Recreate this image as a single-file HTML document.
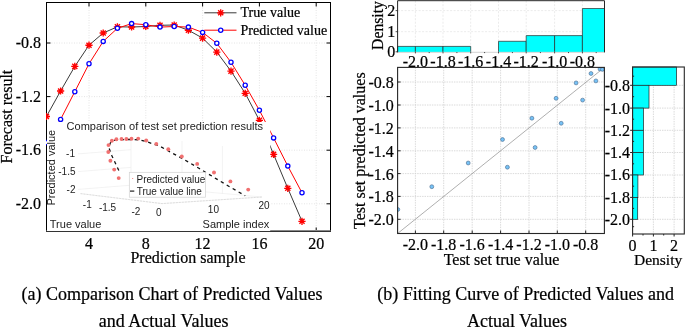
<!DOCTYPE html>
<html><head><meta charset="utf-8"><style>
html,body{margin:0;padding:0;background:#fff;width:685px;height:327px;overflow:hidden}
svg{display:block;will-change:transform}
</style></head><body>
<svg width="685" height="327" viewBox="0 0 685 327">
<path d="M46.5 43.0H330.5 M46.5 96.6H330.5 M46.5 150.2H330.5 M46.5 203.8H330.5 M89.0 2.5V231.5 M145.8 2.5V231.5 M202.6 2.5V231.5 M259.4 2.5V231.5 M316.2 2.5V231.5" stroke="#d9d9d9" stroke-width="0.8" stroke-dasharray="0.9 1.6" fill="none"/>
<path d="M46.5 43.0h4M330.5 43.0h-4M46.5 96.6h4M330.5 96.6h-4M46.5 150.2h4M330.5 150.2h-4M46.5 203.8h4M330.5 203.8h-4M89.0 230.9v-3.4M89.0 2.5v4M145.8 230.9v-3.4M145.8 2.5v4M202.6 230.9v-3.4M202.6 2.5v4M259.4 230.9v-3.4M259.4 2.5v4M316.2 230.9v-3.4M316.2 2.5v4" stroke="#000" stroke-width="1" fill="none"/>
<rect x="46.5" y="2.5" width="284.0" height="228.8" fill="none" stroke="#000" stroke-width="1"/>
<path d="M46.5 230.5H330.5" stroke="#888" stroke-width="1"/>
<clipPath id="cl"><rect x="46.0" y="2.0" width="285.0" height="230.0"/></clipPath>
<g clip-path="url(#cl)">
<polyline points="46.4,116.5 60.6,91.0 74.8,66.4 89.0,45.2 103.2,33.0 117.4,26.8 131.6,27.0 145.8,26.5 160.0,25.3 174.2,25.0 188.4,30.2 202.6,38.1 216.8,52.1 231.0,71.1 245.2,93.3 259.4,120.3 273.6,154.4 287.8,188.3 302.0,221.3" fill="none" stroke="#3a3a3a" stroke-width="1"/>
<polyline points="46.4,142.6 60.6,119.4 74.8,91.7 89.0,63.8 103.2,41.4 117.4,28.3 131.6,23.6 145.8,24.7 160.0,27.1 174.2,26.5 188.4,27.1 202.6,32.4 216.8,43.3 231.0,62.3 245.2,85.3 259.4,110.3 273.6,137.9 287.8,166.1 302.0,192.8" fill="none" stroke="#ff0000" stroke-width="1"/>
<path d="M42.80 116.50L50.00 116.50M43.85 113.95L48.95 119.05M46.40 112.90L46.40 120.10M48.95 113.95L43.85 119.05" stroke="#ff0000" stroke-width="1.35" fill="none"/>
<path d="M57.00 91.00L64.20 91.00M58.05 88.45L63.15 93.55M60.60 87.40L60.60 94.60M63.15 88.45L58.05 93.55" stroke="#ff0000" stroke-width="1.35" fill="none"/>
<path d="M71.20 66.40L78.40 66.40M72.25 63.85L77.35 68.95M74.80 62.80L74.80 70.00M77.35 63.85L72.25 68.95" stroke="#ff0000" stroke-width="1.35" fill="none"/>
<path d="M85.40 45.20L92.60 45.20M86.45 42.65L91.55 47.75M89.00 41.60L89.00 48.80M91.55 42.65L86.45 47.75" stroke="#ff0000" stroke-width="1.35" fill="none"/>
<path d="M99.60 33.00L106.80 33.00M100.65 30.45L105.75 35.55M103.20 29.40L103.20 36.60M105.75 30.45L100.65 35.55" stroke="#ff0000" stroke-width="1.35" fill="none"/>
<path d="M113.80 26.80L121.00 26.80M114.85 24.25L119.95 29.35M117.40 23.20L117.40 30.40M119.95 24.25L114.85 29.35" stroke="#ff0000" stroke-width="1.35" fill="none"/>
<path d="M128.00 27.00L135.20 27.00M129.05 24.45L134.15 29.55M131.60 23.40L131.60 30.60M134.15 24.45L129.05 29.55" stroke="#ff0000" stroke-width="1.35" fill="none"/>
<path d="M142.20 26.50L149.40 26.50M143.25 23.95L148.35 29.05M145.80 22.90L145.80 30.10M148.35 23.95L143.25 29.05" stroke="#ff0000" stroke-width="1.35" fill="none"/>
<path d="M156.40 25.30L163.60 25.30M157.45 22.75L162.55 27.85M160.00 21.70L160.00 28.90M162.55 22.75L157.45 27.85" stroke="#ff0000" stroke-width="1.35" fill="none"/>
<path d="M170.60 25.00L177.80 25.00M171.65 22.45L176.75 27.55M174.20 21.40L174.20 28.60M176.75 22.45L171.65 27.55" stroke="#ff0000" stroke-width="1.35" fill="none"/>
<path d="M184.80 30.20L192.00 30.20M185.85 27.65L190.95 32.75M188.40 26.60L188.40 33.80M190.95 27.65L185.85 32.75" stroke="#ff0000" stroke-width="1.35" fill="none"/>
<path d="M199.00 38.10L206.20 38.10M200.05 35.55L205.15 40.65M202.60 34.50L202.60 41.70M205.15 35.55L200.05 40.65" stroke="#ff0000" stroke-width="1.35" fill="none"/>
<path d="M213.20 52.10L220.40 52.10M214.25 49.55L219.35 54.65M216.80 48.50L216.80 55.70M219.35 49.55L214.25 54.65" stroke="#ff0000" stroke-width="1.35" fill="none"/>
<path d="M227.40 71.10L234.60 71.10M228.45 68.55L233.55 73.65M231.00 67.50L231.00 74.70M233.55 68.55L228.45 73.65" stroke="#ff0000" stroke-width="1.35" fill="none"/>
<path d="M241.60 93.30L248.80 93.30M242.65 90.75L247.75 95.85M245.20 89.70L245.20 96.90M247.75 90.75L242.65 95.85" stroke="#ff0000" stroke-width="1.35" fill="none"/>
<path d="M255.80 120.30L263.00 120.30M256.85 117.75L261.95 122.85M259.40 116.70L259.40 123.90M261.95 117.75L256.85 122.85" stroke="#ff0000" stroke-width="1.35" fill="none"/>
<path d="M270.00 154.40L277.20 154.40M271.05 151.85L276.15 156.95M273.60 150.80L273.60 158.00M276.15 151.85L271.05 156.95" stroke="#ff0000" stroke-width="1.35" fill="none"/>
<path d="M284.20 188.30L291.40 188.30M285.25 185.75L290.35 190.85M287.80 184.70L287.80 191.90M290.35 185.75L285.25 190.85" stroke="#ff0000" stroke-width="1.35" fill="none"/>
<path d="M298.40 221.30L305.60 221.30M299.45 218.75L304.55 223.85M302.00 217.70L302.00 224.90M304.55 218.75L299.45 223.85" stroke="#ff0000" stroke-width="1.35" fill="none"/>
<circle cx="46.40" cy="142.60" r="2.1" stroke="#0000ff" stroke-width="1.3" fill="#fff"/>
<circle cx="60.60" cy="119.40" r="2.1" stroke="#0000ff" stroke-width="1.3" fill="#fff"/>
<circle cx="74.80" cy="91.70" r="2.1" stroke="#0000ff" stroke-width="1.3" fill="#fff"/>
<circle cx="89.00" cy="63.80" r="2.1" stroke="#0000ff" stroke-width="1.3" fill="#fff"/>
<circle cx="103.20" cy="41.40" r="2.1" stroke="#0000ff" stroke-width="1.3" fill="#fff"/>
<circle cx="117.40" cy="28.30" r="2.1" stroke="#0000ff" stroke-width="1.3" fill="#fff"/>
<circle cx="131.60" cy="23.60" r="2.1" stroke="#0000ff" stroke-width="1.3" fill="#fff"/>
<circle cx="145.80" cy="24.70" r="2.1" stroke="#0000ff" stroke-width="1.3" fill="#fff"/>
<circle cx="160.00" cy="27.10" r="2.1" stroke="#0000ff" stroke-width="1.3" fill="#fff"/>
<circle cx="174.20" cy="26.50" r="2.1" stroke="#0000ff" stroke-width="1.3" fill="#fff"/>
<circle cx="188.40" cy="27.10" r="2.1" stroke="#0000ff" stroke-width="1.3" fill="#fff"/>
<circle cx="202.60" cy="32.40" r="2.1" stroke="#0000ff" stroke-width="1.3" fill="#fff"/>
<circle cx="216.80" cy="43.30" r="2.1" stroke="#0000ff" stroke-width="1.3" fill="#fff"/>
<circle cx="231.00" cy="62.30" r="2.1" stroke="#0000ff" stroke-width="1.3" fill="#fff"/>
<circle cx="245.20" cy="85.30" r="2.1" stroke="#0000ff" stroke-width="1.3" fill="#fff"/>
<circle cx="259.40" cy="110.30" r="2.1" stroke="#0000ff" stroke-width="1.3" fill="#fff"/>
<circle cx="273.60" cy="137.90" r="2.1" stroke="#0000ff" stroke-width="1.3" fill="#fff"/>
<circle cx="287.80" cy="166.10" r="2.1" stroke="#0000ff" stroke-width="1.3" fill="#fff"/>
<circle cx="302.00" cy="192.80" r="2.1" stroke="#0000ff" stroke-width="1.3" fill="#fff"/>
</g>
<rect x="47.0" y="122.0" width="223.2" height="109.0" fill="#fff"/>
<path d="M78 189.4L131 185.2 M78 171.6L131 167.4 M78 153.9L131 149.7 M131 137L131 185.2 M80.5 193.6L162 203.6 M162 203.6L262 197 M131 185.2L262 197 M182 141L182 190 M222.4 146L222.4 194" stroke="#eeeeee" stroke-width="0.7" fill="none"/>
<path d="M80.5 193.6L162 203.6L262 197" stroke="#d4d4d4" stroke-width="0.7" stroke-dasharray="2 1" fill="none"/>
<polyline points="118.8,170.5 112,156 108.8,147.5 110.3,143 113,140.6 118,139.7 126,139.5 132,139.5 139,139.8 147,141.8 159.8,146.2 170.8,152.3 184.2,159.6 198.9,168.2 214.8,177.9 229.5,186.7 245.2,195.7" fill="none" stroke="#111" stroke-width="1.3" stroke-dasharray="3.3 3.6"/>
<circle cx="118.7" cy="178.1" r="1.95" fill="#f07070"/>
<circle cx="114.2" cy="169.6" r="1.95" fill="#f07070"/>
<circle cx="110.4" cy="160.7" r="1.95" fill="#f07070"/>
<circle cx="108.3" cy="152.0" r="1.95" fill="#f07070"/>
<circle cx="108.5" cy="145.1" r="1.95" fill="#f07070"/>
<circle cx="111.9" cy="140.8" r="1.95" fill="#f07070"/>
<circle cx="116.4" cy="139.2" r="1.95" fill="#f07070"/>
<circle cx="121.5" cy="139.0" r="1.95" fill="#f07070"/>
<circle cx="126.4" cy="139.0" r="1.95" fill="#f07070"/>
<circle cx="131.5" cy="138.7" r="1.95" fill="#f07070"/>
<circle cx="138.2" cy="138.6" r="1.95" fill="#f07070"/>
<circle cx="146.2" cy="140.5" r="1.95" fill="#f07070"/>
<circle cx="156.3" cy="143.9" r="1.95" fill="#f07070"/>
<circle cx="168.3" cy="149.2" r="1.95" fill="#f07070"/>
<circle cx="181.8" cy="156.5" r="1.95" fill="#f07070"/>
<circle cx="197.2" cy="163.9" r="1.95" fill="#f07070"/>
<circle cx="214.0" cy="172.5" r="1.95" fill="#f07070"/>
<circle cx="230.4" cy="181.4" r="1.95" fill="#f07070"/>
<circle cx="248.2" cy="189.6" r="1.95" fill="#f07070"/>
<rect x="129.3" y="172.3" width="76.3" height="24.9" fill="#fff" stroke="#d2d2d2" stroke-width="0.7"/>
<circle cx="132.7" cy="178.5" r="0.6" fill="#f07070"/>
<path d="M130 191.1H134.3" stroke="#222" stroke-width="1.2"/>
<text font-family="Liberation Sans" font-size="10" fill="#1c1c1c"><tspan x="136.5" y="182.8">Predicted value</tspan><tspan x="136.7" y="195.1">True value line</tspan></text>
<text font-family="Liberation Sans" font-size="11" fill="#1c1c1c" x="66.6" y="130.2" textLength="196.5" lengthAdjust="spacingAndGlyphs">Comparison of test set prediction results</text>
<text font-family="Liberation Sans" font-size="11" fill="#1c1c1c" transform="translate(55.2 205.6) rotate(-90)" x="0" y="0">Predicted value</text>
<text font-family="Liberation Sans" font-size="11" fill="#1c1c1c" x="49.8" y="227.8">True value</text>
<text font-family="Liberation Sans" font-size="11" fill="#1c1c1c" x="202.6" y="228.4">Sample index</text>
<g font-family="Liberation Sans" font-size="10" fill="#1c1c1c" text-anchor="end"><text x="75" y="157.4">-1</text><text x="75.5" y="175.2">-1.5</text><text x="75.5" y="192.6">-2</text></g>
<g font-family="Liberation Sans" font-size="10" fill="#1c1c1c" text-anchor="middle"><text x="87.3" y="207.6">-1</text><text x="107.5" y="211.1">-1.5</text><text x="135.9" y="214.9">-2</text><text x="158.8" y="216.2">0</text><text x="213.4" y="212.7">10</text><text x="264.1" y="209">20</text></g>
<path d="M204.3 12.8H236.5" stroke="#3a3a3a" stroke-width="1"/>
<path d="M217.10 12.80L224.30 12.80M218.15 10.25L223.25 15.35M220.70 9.20L220.70 16.40M223.25 10.25L218.15 15.35" stroke="#ff0000" stroke-width="1.35" fill="none"/>
<path d="M204.3 30.2H236.5" stroke="#ff0000" stroke-width="1"/>
<circle cx="220.70" cy="30.20" r="2.1" stroke="#0000ff" stroke-width="1.3" fill="#fff"/>
<text font-family="Liberation Serif" stroke="#000" stroke-width="0.22" font-size="14" fill="#000"><tspan x="240.5" y="17.1">True value</tspan><tspan x="240.5" y="34.5">Predicted value</tspan></text>
<g font-family="Liberation Serif" stroke="#000" stroke-width="0.22" font-size="16" fill="#000" text-anchor="end"><text x="41" y="47.8">-0.8</text><text x="41" y="101.8">-1.2</text><text x="41" y="155.4">-1.6</text><text x="41" y="209.0">-2.0</text></g>
<g font-family="Liberation Serif" stroke="#000" stroke-width="0.22" font-size="16" fill="#000" text-anchor="middle"><text x="89.0" y="248.6">4</text><text x="145.8" y="248.6">8</text><text x="202.6" y="248.6">12</text><text x="259.4" y="248.6">16</text><text x="316.2" y="248.6">20</text></g>
<text font-family="Liberation Serif" stroke="#000" stroke-width="0.22" font-size="16" fill="#000" x="188" y="263.2" text-anchor="middle">Prediction sample</text>
<text font-family="Liberation Serif" stroke="#000" stroke-width="0.22" font-size="16" fill="#000" transform="translate(11.6 116.6) rotate(-90)" text-anchor="middle">Forecast result</text>
<path d="M415.4 0.7V52.0M443.0 0.7V52.0M470.7 0.7V52.0M498.5 0.7V52.0M526.2 0.7V52.0M554.6 0.7V52.0M582.4 0.7V52.0M397.6 31.7H604.5M397.6 10.6H604.5" stroke="#e6e6e6" stroke-width="0.8" stroke-dasharray="2 1.5" fill="none"/>
<rect x="397.6" y="46.4" width="17.8" height="5.6" fill="#00ffff"/>
<path d="M397.6 52.0V46.4H415.4V52.0" fill="none" stroke="#2a2a2a" stroke-width="0.7"/>
<rect x="415.4" y="46.4" width="27.6" height="5.6" fill="#00ffff"/>
<path d="M415.4 52.0V46.4H443.0V52.0" fill="none" stroke="#2a2a2a" stroke-width="0.7"/>
<rect x="443.0" y="46.4" width="27.7" height="5.6" fill="#00ffff"/>
<path d="M443.0 52.0V46.4H470.7V52.0" fill="none" stroke="#2a2a2a" stroke-width="0.7"/>
<rect x="498.5" y="41.3" width="27.7" height="10.7" fill="#00ffff"/>
<path d="M498.5 52.0V41.3H526.2V52.0" fill="none" stroke="#2a2a2a" stroke-width="0.7"/>
<rect x="526.2" y="35.6" width="28.4" height="16.4" fill="#00ffff"/>
<path d="M526.2 52.0V35.6H554.6V52.0" fill="none" stroke="#2a2a2a" stroke-width="0.7"/>
<rect x="554.6" y="35.6" width="27.8" height="16.4" fill="#00ffff"/>
<path d="M554.6 52.0V35.6H582.4V52.0" fill="none" stroke="#2a2a2a" stroke-width="0.7"/>
<rect x="582.4" y="8.5" width="22.1" height="43.5" fill="#00ffff"/>
<path d="M582.4 52.0V8.5H604.5V52.0" fill="none" stroke="#2a2a2a" stroke-width="0.7"/>
<path d="M397.6 52.3H604.5" stroke="#cfcfcf" stroke-width="0.9"/>
<path d="M397.6 52.4V0.7H604.5V52.4" fill="none" stroke="#262626" stroke-width="1"/>
<path d="M397.6 51.8h-2M397.6 31.7h-2M397.6 10.6h-2M415.4 52.0v1.4M443.0 52.0v1.4M470.7 52.0v1.4M498.5 52.0v1.4M526.2 52.0v1.4M554.6 52.0v1.4M582.4 52.0v1.4M429.2 52.0v1.1M456.9 52.0v1.1M484.6 52.0v1.1M512.4 52.0v1.1M540.4 52.0v1.1M568.5 52.0v1.1M596.2 52.0v1.1" stroke="#262626" stroke-width="0.8" fill="none"/>
<g font-family="Liberation Serif" stroke="#000" stroke-width="0.22" font-size="16" fill="#000" text-anchor="middle"><text x="415.4" y="66.6">-2.0</text><text x="443.0" y="66.6">-1.8</text><text x="470.7" y="66.6">-1.6</text><text x="498.5" y="66.6">-1.4</text><text x="526.2" y="66.6">-1.2</text><text x="554.6" y="66.6">-1.0</text><text x="582.4" y="66.6">-0.8</text></g>
<g font-family="Liberation Serif" stroke="#000" stroke-width="0.22" font-size="16" fill="#000" text-anchor="end"><text x="395.3" y="57.2">0</text><text x="395.3" y="37.1">1</text><text x="395.3" y="15.6">2</text></g>
<text font-family="Liberation Serif" stroke="#000" stroke-width="0.22" fill="#000" font-size="15.7" transform="translate(383.3 49.9) rotate(-90)">Density</text>
<path d="M415.4 67.4V233.5M443.7 67.4V233.5M472.2 67.4V233.5M500.6 67.4V233.5M529.0 67.4V233.5M557.3 67.4V233.5M585.7 67.4V233.5M397.6 82.0H604.4M397.6 105.0H604.4M397.6 127.9H604.4M397.6 150.8H604.4M397.6 173.6H604.4M397.6 196.4H604.4M397.6 219.3H604.4" stroke="#d0d0d0" stroke-width="0.8" stroke-dasharray="1.45 1.0" fill="none"/>
<clipPath id="cs"><rect x="397.6" y="67.4" width="206.8" height="166.1"/></clipPath>
<g clip-path="url(#cs)">
<path d="M397.6 233.5L604.4 67.4" stroke="#8c8c8c" stroke-width="0.7"/>
<circle cx="397.8" cy="209.5" r="1.95" fill="#76c2f6" stroke="#4a6a8c" stroke-width="0.6"/>
<circle cx="431.8" cy="186.7" r="1.95" fill="#76c2f6" stroke="#4a6a8c" stroke-width="0.6"/>
<circle cx="468.2" cy="163.0" r="1.95" fill="#76c2f6" stroke="#4a6a8c" stroke-width="0.6"/>
<circle cx="502.5" cy="139.5" r="1.95" fill="#76c2f6" stroke="#4a6a8c" stroke-width="0.6"/>
<circle cx="507.4" cy="167.2" r="1.95" fill="#76c2f6" stroke="#4a6a8c" stroke-width="0.6"/>
<circle cx="531.9" cy="118.2" r="1.95" fill="#76c2f6" stroke="#4a6a8c" stroke-width="0.6"/>
<circle cx="535.1" cy="147.5" r="1.95" fill="#76c2f6" stroke="#4a6a8c" stroke-width="0.6"/>
<circle cx="556.1" cy="98.3" r="1.95" fill="#76c2f6" stroke="#4a6a8c" stroke-width="0.6"/>
<circle cx="561.2" cy="123.3" r="1.95" fill="#76c2f6" stroke="#4a6a8c" stroke-width="0.6"/>
<circle cx="576.1" cy="82.9" r="1.95" fill="#76c2f6" stroke="#4a6a8c" stroke-width="0.6"/>
<circle cx="582.6" cy="100.1" r="1.95" fill="#76c2f6" stroke="#4a6a8c" stroke-width="0.6"/>
<circle cx="591.0" cy="73.5" r="1.95" fill="#76c2f6" stroke="#4a6a8c" stroke-width="0.6"/>
<circle cx="595.9" cy="80.9" r="1.95" fill="#76c2f6" stroke="#4a6a8c" stroke-width="0.6"/>
<circle cx="600.0" cy="69.0" r="1.95" fill="#76c2f6" stroke="#4a6a8c" stroke-width="0.6"/>
<circle cx="602.4" cy="69.4" r="1.95" fill="#76c2f6" stroke="#4a6a8c" stroke-width="0.6"/>
</g>
<rect x="397.6" y="67.4" width="206.8" height="166.1" fill="none" stroke="#262626" stroke-width="1.1"/>
<path d="M415.4 233.5v-3M443.7 233.5v-3M472.2 233.5v-3M500.6 233.5v-3M529.0 233.5v-3M557.3 233.5v-3M585.7 233.5v-3M397.6 82.0h3M397.6 105.0h3M397.6 127.9h3M397.6 150.8h3M397.6 173.6h3M397.6 196.4h3M397.6 219.3h3" stroke="#262626" stroke-width="1" fill="none"/>
<g font-family="Liberation Serif" stroke="#000" stroke-width="0.22" font-size="16" fill="#000" text-anchor="middle"><text x="415.4" y="249.8">-2.0</text><text x="443.7" y="249.8">-1.8</text><text x="472.2" y="249.8">-1.6</text><text x="500.6" y="249.8">-1.4</text><text x="529.0" y="249.8">-1.2</text><text x="557.3" y="249.8">-1.0</text><text x="585.7" y="249.8">-0.8</text></g>
<g font-family="Liberation Serif" stroke="#000" stroke-width="0.22" font-size="16" fill="#000" text-anchor="end"><text x="393.8" y="87.9">-0.8</text><text x="393.8" y="110.9">-1.0</text><text x="393.8" y="133.8">-1.2</text><text x="393.8" y="156.7">-1.4</text><text x="393.8" y="179.5">-1.6</text><text x="393.8" y="202.3">-1.8</text><text x="393.8" y="225.2">-2.0</text></g>
<text font-family="Liberation Serif" stroke="#000" stroke-width="0.22" font-size="16" fill="#000" x="501.5" y="264.8" text-anchor="middle">Test set true value</text>
<text font-family="Liberation Serif" stroke="#000" stroke-width="0.22" font-size="16" fill="#000" transform="translate(365 150.7) rotate(-90)" text-anchor="middle">Test set predicted values</text>
<path d="M653.4 67.0V234.0M674.1 67.0V234.0M632.6 85.3H684.3M632.6 108.1H684.3M632.6 130.3H684.3M632.6 152.5H684.3M632.6 175.0H684.3M632.6 197.4H684.3M632.6 219.3H684.3" stroke="#d0d0d0" stroke-width="0.8" stroke-dasharray="1.45 1.0" fill="none"/>
<rect x="632.6" y="67.0" width="44.0" height="18.3" fill="#00ffff" stroke="#222" stroke-width="0.7"/>
<rect x="632.6" y="85.3" width="16.4" height="22.8" fill="#00ffff" stroke="#222" stroke-width="0.7"/>
<rect x="632.6" y="108.1" width="10.9" height="22.2" fill="#00ffff" stroke="#222" stroke-width="0.7"/>
<rect x="632.6" y="130.3" width="10.9" height="22.2" fill="#00ffff" stroke="#222" stroke-width="0.7"/>
<rect x="632.6" y="152.5" width="10.9" height="22.5" fill="#00ffff" stroke="#222" stroke-width="0.7"/>
<rect x="632.6" y="175.0" width="5.3" height="22.4" fill="#00ffff" stroke="#222" stroke-width="0.7"/>
<rect x="632.6" y="197.4" width="5.1" height="21.9" fill="#00ffff" stroke="#222" stroke-width="0.7"/>
<rect x="632.6" y="67.0" width="51.7" height="167.0" fill="none" stroke="#262626" stroke-width="1.1"/>
<path d="M632.6 85.3h-2.5M632.6 108.1h-2.5M632.6 130.3h-2.5M632.6 152.5h-2.5M632.6 175.0h-2.5M632.6 197.4h-2.5M632.6 219.3h-2.5M632.6 96.7h1.5M632.6 119.2h1.5M632.6 141.4h1.5M632.6 163.8h1.5M632.6 186.2h1.5M632.6 208.4h1.5M632.6 76.2h1.5M632.6 226.7h1.5M632.6 234.0v2.5M653.4 234.0v2.5M674.1 234.0v2.5M643.0 234.0v1.5M663.7 234.0v1.5" stroke="#262626" stroke-width="1" fill="none"/>
<g font-family="Liberation Serif" stroke="#000" stroke-width="0.22" font-size="16" fill="#000" text-anchor="end"><text x="630" y="90.7">-0.8</text><text x="630" y="113.5">-1.0</text><text x="630" y="135.7">-1.2</text><text x="630" y="157.9">-1.4</text><text x="630" y="180.4">-1.6</text><text x="630" y="202.8">-1.8</text><text x="630" y="224.7">-2.0</text></g>
<g font-family="Liberation Serif" stroke="#000" stroke-width="0.22" font-size="16" fill="#000" text-anchor="middle"><text x="632.6" y="251.2">0</text><text x="653.4" y="251.2">1</text><text x="674.1" y="251.2">2</text></g>
<text font-family="Liberation Serif" stroke="#000" stroke-width="0.22" font-size="15.5" fill="#000" x="658.1" y="265" text-anchor="middle">Density</text>
<g font-family="Liberation Serif" stroke="#000" stroke-width="0.22" font-size="18" fill="#000" text-anchor="middle"><text x="172" y="300.1">(a) Comparison Chart of Predicted Values</text><text x="163.6" y="326.6">and Actual Values</text><text x="525.6" y="300.1">(b) Fitting Curve of Predicted Values and</text><text x="517" y="326.6">Actual Values</text></g>
</svg></body></html>
